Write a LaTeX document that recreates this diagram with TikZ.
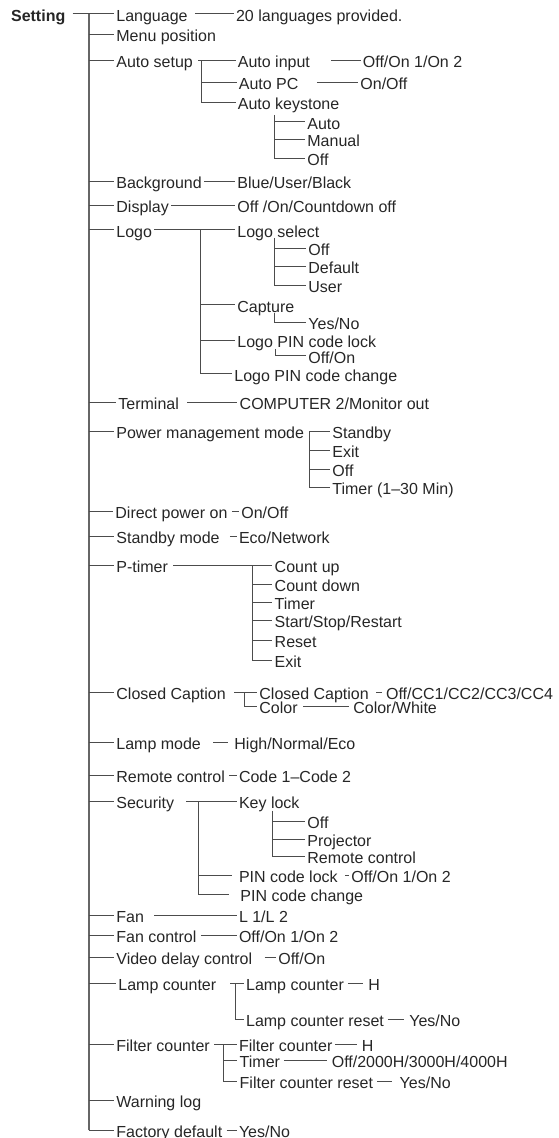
\documentclass[tikz,border=0pt]{standalone}
\usepackage{fontspec}
\setmainfont{Liberation Sans}

\begin{document}
\begin{tikzpicture}
[x=0.5pt, y=-0.5pt, font=\fontsize{8pt}{9.6pt}\selectfont, text=black!85]

\tikzstyle{item}=[anchor=west, inner xsep=1pt, inner ysep=0pt, text height=0.72em, text depth=0pt]
\tikzstyle{link}=[draw=black!70, line width=0.5pt]
\tikzstyle{trunk}=[draw=black!60, line width=1pt]

\useasboundingbox (0,0) rectangle (558,1138);

% top level
\node[item]	(S)	at (8.7,14)	{\bfseries Setting};
\node[item]	(M1)	at (114,14)	{Language};
\node[item]	(M2)	at (114,34.3)	{Menu position};
\node[item]	(M3)	at (114,60.7)	{Auto setup};
\node[item]	(M4)	at (114,181.7)	{Background};
\node[item]	(M5)	at (114,205.7)	{Display};
\node[item]	(M6)	at (114,230)	{Logo};
\node[item]	(M7)	at (116,402.7)	{Terminal};
\node[item]	(M8)	at (114,431.7)	{Power management mode};
\node[item]	(M9)	at (113,511)	{Direct power on};
\node[item]	(M10)	at (114,536.7)	{Standby mode};
\node[item]	(M11)	at (114,565.7)	{P-timer};
\node[item]	(M12)	at (114,692)	{Closed Caption};
\node[item]	(M13)	at (114,742.3)	{Lamp mode};
\node[item]	(M14)	at (114,775)	{Remote control};
\node[item]	(M15)	at (114,801.7)	{Security};
\node[item]	(M16)	at (114,915)	{Fan};
\node[item]	(M17)	at (114,935)	{Fan control};
\node[item]	(M18)	at (114,957.3)	{Video delay control};
\node[item]	(M19)	at (116,983.3)	{Lamp counter};
\node[item]	(M20)	at (114,1044.3)	{Filter counter};
\node[item]	(M21)	at (114,1100)	{Warning log};
\node[item]	(M22)	at (114,1130)	{Factory default};

\coordinate (T) at (88.6,14);
\draw [trunk] (T) -- (T |- M22.west);
\draw [link, shorten <=2.5pt] (S.east) -- (M1.west);
\foreach \n in {M2,M3,M4,M5,M6,M7,M8,M9,M10,M11,M12,M13,M14,M15,M16,M17,M18,M19,M20,M21,M22}
	\draw [link] (T |- \n.west) -- (\n.west);

% Language, Auto setup
\node[item]	(M1v)	at (233.7,14)	{20 languages provided.};
\draw [link, shorten <=2.5pt] (M1.east) -- (M1v.west);

\node[item]	(M3a)	at (235.5,60.7)	{Auto input};
\node[item]	(M3b)	at (236.5,82.7)	{Auto PC};
\node[item]	(M3c)	at (235.5,102.3)	{Auto keystone};
\node[item]	(M3av)	at (360.5,60.7)	{Off/On 1/On 2};
\node[item]	(M3bv)	at (358,82.7)	{On/Off};
\node[item]	(M3c1)	at (305,122)	{Auto};
\node[item]	(M3c2)	at (305,139.3)	{Manual};
\node[item]	(M3c3)	at (305,158.3)	{Off};
\coordinate (J3) at (201.8,60.7);
\coordinate (J3c) at (274,115);
\draw [link, shorten <=1.5pt] (M3.east) -- (M3a.west);
\draw [link] (J3) |- (M3c.west);
\draw [link] (J3 |- M3b.west) -- (M3b.west);
\draw [link, shorten <=9.5pt] (M3a.east) -- (M3av.west);
\draw [link, shorten <=8pt] (M3b.east) -- (M3bv.west);
\draw [link] (J3c) |- (M3c3.west);
\foreach \n in {M3c1,M3c2}
	\draw [link] (J3c |- \n.west) -- (\n.west);

% Background, Display
\node[item]	(M4v)	at (235,181.7)	{Blue/User/Black};
\node[item]	(M5v)	at (235,205.7)	{Off /On/Countdown off};
\draw [link] (M4.east) -- (M4v.west);
\draw [link] (M5.east) -- (M5v.west);

% Logo
\node[item]	(M6a)	at (235,230)	{Logo select};
\node[item]	(M6a1)	at (306,248.3)	{Off};
\node[item]	(M6a2)	at (306,266.7)	{Default};
\node[item]	(M6a3)	at (306,285.7)	{User};
\node[item]	(M6b)	at (235,305)	{Capture};
\node[item]	(M6b1)	at (306,322.7)	{Yes/No};
\node[item]	(M6c)	at (235,340.7)	{Logo PIN code lock};
\node[item]	(M6c1)	at (306,356)	{Off/On};
\node[item]	(M6d)	at (232,374)	{Logo PIN code change};
\coordinate (J6) at (200,230);
\coordinate (J6a) at (274,238);
\coordinate (J6b) at (274.3,312.7);
\coordinate (J6c) at (275.7,349);
\draw [link] (M6.east) -- (M6a.west);
\draw [link] (J6) |- (M6d.west);
\foreach \n in {M6b,M6c}
	\draw [link] (J6 |- \n.west) -- (\n.west);
\draw [link] (J6a) |- (M6a3.west);
\foreach \n in {M6a1,M6a2}
	\draw [link] (J6a |- \n.west) -- (\n.west);
\draw [link] (J6b) |- (M6b1.west);
\draw [link] (J6c) |- (M6c1.west);

% Terminal, Power management mode
\node[item]	(M7v)	at (237.3,402.7)	{COMPUTER 2/Monitor out};
\draw [link, shorten <=3pt] (M7.east) -- (M7v.west);

\node[item]	(M8a)	at (330,431.7)	{Standby};
\node[item]	(M8b)	at (330,450.7)	{Exit};
\node[item]	(M8c)	at (330,469)	{Off};
\node[item]	(M8d)	at (330,487.3)	{Timer (1–30 Min)};
\coordinate (J8) at (309,431.7);
\draw [link, shorten <=1.5pt] (M8.east) -- (M8a.west);
\draw [link] (J8) |- (M8d.west);
\foreach \n in {M8b,M8c}
	\draw [link] (J8 |- \n.west) -- (\n.west);

% Direct power on, Standby mode
\node[item]	(M9v)	at (239,511)	{On/Off};
\node[item]	(M10v)	at (236.6,536.7)	{Eco/Network};
\draw [link, shorten <=1pt] (M9.east) -- (M9v.west);
\draw [link, shorten <=4pt] (M10.east) -- (M10v.west);

% P-timer
\node[item]	(M11a)	at (272.3,565.7)	{Count up};
\node[item]	(M11b)	at (272.3,584)	{Count down};
\node[item]	(M11c)	at (272.3,602.7)	{Timer};
\node[item]	(M11d)	at (272.3,620.7)	{Start/Stop/Restart};
\node[item]	(M11e)	at (272.3,640.7)	{Reset};
\node[item]	(M11f)	at (272.3,660)	{Exit};
\coordinate (J11) at (252.9,565.7);
\draw [link, shorten <=1.5pt] (M11.east) -- (M11a.west);
\draw [link] (J11) |- (M11f.west);
\foreach \n in {M11b,M11c,M11d,M11e}
	\draw [link] (J11 |- \n.west) -- (\n.west);

% Closed Caption
\node[item]	(M12a)	at (257,692)	{Closed Caption};
\node[item]	(M12b)	at (257,706)	{Color};
\node[item]	(M12av)	at (383.7,692)	{Off/CC1/CC2/CC3/CC4};
\node[item]	(M12bv)	at (350.9,706)	{Color/White};
\coordinate (J12) at (244,692);
\draw [link, shorten <=3pt] (M12.east) -- (M12a.west);
\draw [link] (J12) |- (M12b.west);
\draw [link, shorten <=2.5pt, shorten >=1pt] (M12a.east) -- (M12av.west);
\draw [link, shorten <=1.5pt, shorten >=1pt] (M12b.east) -- (M12bv.west);

% Lamp mode, Remote control
\node[item]	(M13v)	at (232,742.3)	{High/Normal/Eco};
\node[item]	(M14v)	at (236.6,775)	{Code 1–Code 2};
\draw [link, shorten <=5pt, shorten >=2pt] (M13.east) -- (M13v.west);
\draw [link, shorten <=1pt] (M14.east) -- (M14v.west);

% Security
\node[item]	(M15a)	at (236.6,801.7)	{Key lock};
\node[item]	(M15a1)	at (305,821)	{Off};
\node[item]	(M15a2)	at (305,839.3)	{Projector};
\node[item]	(M15a3)	at (305,856)	{Remote control};
\node[item]	(M15b)	at (236.6,875)	{PIN code lock};
\node[item]	(M15bv)	at (349,875)	{Off/On 1/On 2};
\node[item]	(M15c)	at (238,894)	{PIN code change};
\coordinate (J15) at (198.2,801.7);
\coordinate (J15a) at (272,810.7);
\draw [link, shorten <=4.75pt] (M15.east) -- (M15a.west);
\draw [link, shorten >=4.7pt] (J15) |- (M15c.west);
\draw [link, shorten >=2.3pt] (J15 |- M15b.west) -- (M15b.west);
\draw [link, shorten <=2.5pt] (M15b.east) -- (M15bv.west);
\draw [link] (J15a) |- (M15a3.west);
\foreach \n in {M15a1,M15a2}
	\draw [link] (J15a |- \n.west) -- (\n.west);

% Fan, Fan control, Video delay control
\node[item]	(M16v)	at (236.6,915)	{L 1/L 2};
\node[item]	(M17v)	at (236.6,935)	{Off/On 1/On 2};
\node[item]	(M18v)	at (275.9,957.3)	{Off/On};
\draw [link, shorten <=4pt] (M16.east) -- (M16v.west);
\draw [link, shorten <=1pt] (M17.east) -- (M17v.west);
\draw [link, shorten <=5pt] (M18.east) -- (M18v.west);

% Lamp counter
\node[item]	(M19a)	at (243.7,983.3)	{Lamp counter};
\node[item]	(M19av)	at (365.9,983.3)	{H};
\node[item]	(M19b)	at (243.7,1019.3)	{Lamp counter reset};
\node[item]	(M19bv)	at (406.9,1019.3)	{Yes/No};
\coordinate (J19) at (235.7,983.3);
\draw [link, shorten <=5.8pt] (M19.east) -- (M19a.west);
\draw [link] (J19) |- (M19b.west);
\draw [link, shorten <=0.75pt, shorten >=1.7pt] (M19a.east) -- (M19av.west);
\draw [link, shorten <=0.8pt, shorten >=1.6pt] (M19b.east) -- (M19bv.west);

% Filter counter
\node[item]	(M20a)	at (236.6,1044.3)	{Filter counter};
\node[item]	(M20av)	at (359.4,1044.3)	{H};
\node[item]	(M20b)	at (237.3,1060.5)	{Timer};
\node[item]	(M20bv)	at (329.4,1060.5)	{Off/2000H/3000H/4000H};
\node[item]	(M20c)	at (237.3,1081)	{Filter counter reset};
\node[item]	(M20cv)	at (397.3,1081)	{Yes/No};
\coordinate (J20) at (223.9,1044.3);
\draw [link, shorten <=1pt] (M20.east) -- (M20a.west);
\draw [link] (J20) |- (M20c.west);
\draw [link] (J20 |- M20b.west) -- (M20b.west);
\draw [link, shorten >=1pt] (M20a.east) -- (M20av.west);
\draw [link, shorten <=0.7pt, shorten >=1.3pt] (M20b.east) -- (M20bv.west);
\draw [link, shorten <=1pt, shorten >=2.6pt] (M20c.east) -- (M20cv.west);

% Factory default
\node[item]	(M22v)	at (236.6,1130)	{Yes/No};
\draw [link, shorten <=1pt] (M22.east) -- (M22v.west);
\end{tikzpicture}
\end{document}
